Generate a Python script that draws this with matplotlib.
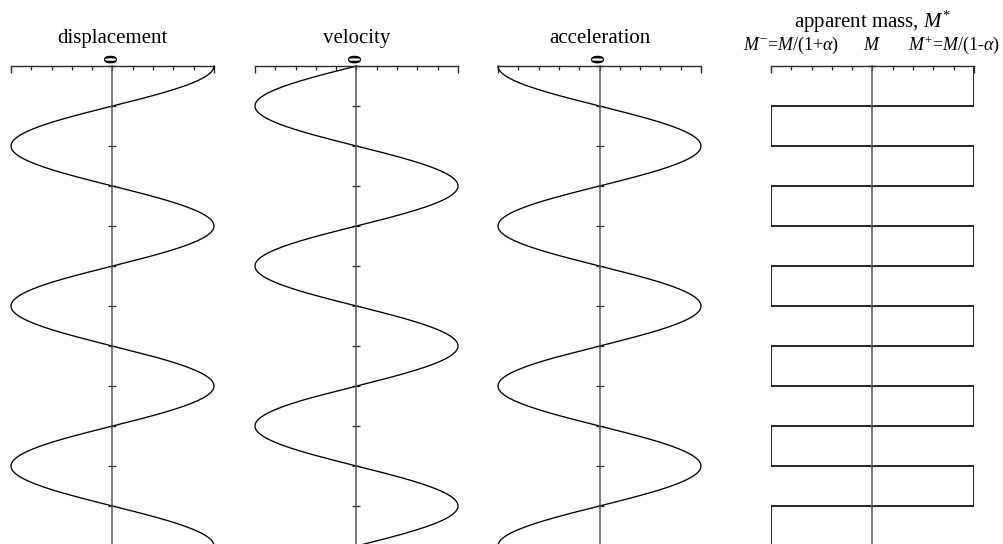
import numpy as np
import matplotlib
matplotlib.use("Agg")
import matplotlib.pyplot as plt
from matplotlib.ticker import FixedLocator

plt.rcParams['font.family'] = ['Liberation Serif', 'DejaVu Serif']
plt.rcParams['mathtext.fontset'] = 'custom'
plt.rcParams['mathtext.rm'] = 'Liberation Serif'
plt.rcParams['mathtext.it'] = 'Liberation Serif:italic'

# panel titles
titles = ['displacement', 'velocity', 'acceleration', r'apparent mass, $M^{*}$']
# phase of each oscillation, in cycles (cos shifted): x, v, a
phases = [0.0, 0.25, 0.5]
amplitude = 1.0
n_cycles = 3.0

# apparent mass: switch times (in cycles) and level (+1 -> M+, -1 -> M-)
mass_switch = [0.0, 0.25, 0.5, 0.75, 1.0, 1.25, 1.5, 1.75, 2.0, 2.25, 2.5, 2.75, 3.0]
mass_level = [1, -1, 1, -1, 1, -1, 1, -1, 1, -1, 1, -1]
mass_labels = [r'$M^{-}$=$M$/(1+$\alpha$)', r'$M$', r'$M^{+}$=$M$/(1-$\alpha$)']
mass_label_x = [-0.8, 0.0, 0.8]

end_ticks = [-1.0, 1.0]
top_ticks = np.round(np.arange(-0.8, 0.81, 0.2), 2)
time_ticks = np.arange(0.0, n_cycles + 0.01, 0.25)

W, H = 1004, 544
fig = plt.figure(figsize=(W / 100, H / 100), dpi=100)

lefts_px = [11, 255, 498, 771]
width_px = 203
top_px, bottom_px = 66, 546

axes = []
for left in lefts_px:
    ax = fig.add_axes([left / W, 1 - bottom_px / H, width_px / W, (bottom_px - top_px) / H])
    ax.set_xlim(-1, 1)
    ax.set_ylim(n_cycles, 0)
    ax.patch.set_alpha(0)
    for s in ['right', 'bottom']:
        ax.spines[s].set_visible(False)
    ax.spines['top'].set_color('#2a2a2a')
    ax.spines['top'].set_linewidth(1.0)
    ax.spines['left'].set_position(('data', 0))
    ax.spines['left'].set_color('#555555')
    ax.spines['left'].set_linewidth(1.1)
    ax.xaxis.set_ticks_position('top')
    ax.xaxis.set_major_locator(FixedLocator(end_ticks))
    ax.xaxis.set_minor_locator(FixedLocator(top_ticks))
    ax.set_xticklabels([])
    ax.tick_params(axis='x', which='major', direction='in', length=5, width=1.0, color='#2a2a2a')
    ax.tick_params(axis='x', which='minor', direction='in', length=3, width=0.9, color='#2a2a2a')
    ax.yaxis.set_major_locator(FixedLocator(time_ticks))
    ax.set_yticklabels([])
    ax.tick_params(axis='y', direction='inout', length=6, width=0.9, color='#2a2a2a')
    axes.append(ax)

t = np.linspace(0, n_cycles, 1200)
for ax, ph, title in zip(axes[:3], phases, titles[:3]):
    ax.plot(amplitude * np.cos(2 * np.pi * (t + ph)), t, color='black', lw=0.95,
            clip_on=False)
    cx = ax.get_position().x0 + ax.get_position().width / 2
    fig.text(cx, 1 - 43 / H, title, ha='center', va='baseline', fontsize=15)
    fig.text(cx, 1 - 58.5 / H, '0', ha='center', va='center', fontsize=13,
             fontweight='bold', rotation=90)

# apparent mass square wave
axm = axes[3]
axm.stairs(mass_level, mass_switch, orientation='horizontal', baseline=None,
           color='black', lw=1.2)
cx = axm.get_position().x0 + axm.get_position().width / 2
fig.text(cx, 1 - 28 / H, titles[3], ha='center', va='baseline', fontsize=15)
for lx, lab in zip(mass_label_x, mass_labels):
    fx = axm.get_position().x0 + (lx + 1) / 2 * axm.get_position().width
    fig.text(fx, 1 - 50 / H, lab, ha='center', va='baseline', fontsize=13)

fig.savefig('out.png', dpi=100)
